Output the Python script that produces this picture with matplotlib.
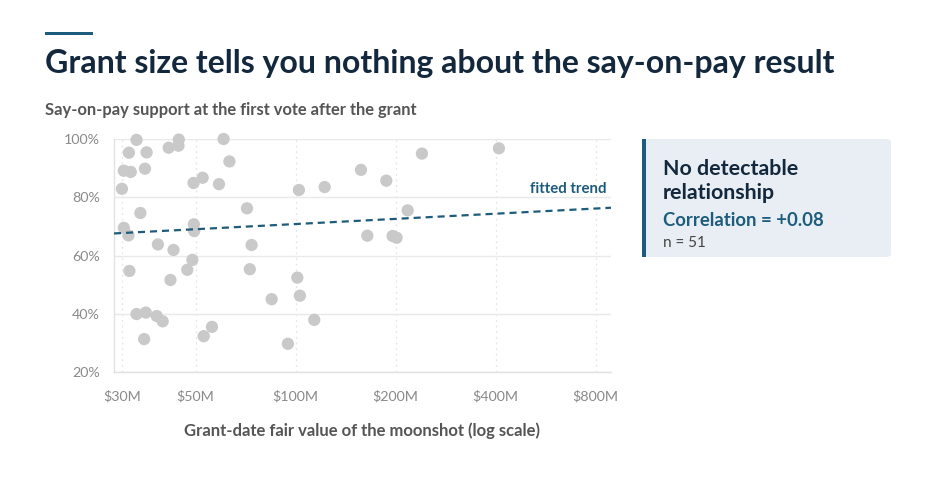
import numpy as np
import matplotlib
matplotlib.use("Agg")
import matplotlib.pyplot as plt
from matplotlib.patches import FancyBboxPatch, Rectangle
from matplotlib.ticker import FixedLocator, NullLocator

plt.rcParams['font.family'] = ['Lato', 'DejaVu Sans']

# grant-date fair value ($M) and say-on-pay support (%)
grant_value = [33.2, 31.5, 35.6, 30.4, 31.9, 35.2, 30.0, 41.5, 44.5, 44.4,
               49.3, 52.5, 58.8, 60.7, 63.2, 102.3, 71.4, 34.1, 30.4, 31.4,
               49.4, 49.5, 38.5, 42.9, 73.7, 31.6, 48.9, 47.2, 42.0, 72.8,
               33.2, 35.4, 38.2, 39.8, 35.0, 52.9, 56.0, 101.2, 103.0, 84.7,
               113.8, 94.8, 122.3, 157.3, 187.5, 240.0, 409.3, 217.4, 164.4, 195.9,
               201.4]
support = [99.7, 95.3, 95.4, 89.1, 88.7, 89.8, 82.9, 97.0, 99.8, 97.7,
           84.9, 86.7, 84.5, 100.0, 92.3, 82.5, 76.2, 74.6, 69.5, 66.9,
           70.7, 68.4, 63.8, 61.9, 63.6, 54.7, 58.5, 55.1, 51.6, 55.3,
           39.9, 40.4, 39.2, 37.4, 31.3, 32.3, 35.5, 52.4, 46.2, 45.0,
           37.9, 29.7, 83.5, 89.4, 85.7, 95.0, 96.8, 75.5, 66.8, 66.7,
           66.1]

x_ticks = [30, 50, 100, 200, 400, 800]
x_tick_labels = ['$30M', '$50M', '$100M', '$200M', '$400M', '$800M']
y_ticks = [20, 40, 60, 80, 100]
y_tick_labels = ['20%', '40%', '60%', '80%', '100%']

# fitted trend: support = intercept + slope * log10(value / 100)
trend_intercept = 70.8
trend_slope = 5.9
correlation = 0.08

navy = '#14283d'
teal = '#1d5c7c'
grey_text = '#555555'
tick_grey = '#8a8a8a'

fig = plt.figure(figsize=(9.36, 4.9), dpi=100)
ax = fig.add_axes([114 / 936, 118 / 490, 497 / 936, 233 / 490])

ax.set_xscale('log')
ax.set_xlim(28.4, 890)
ax.set_ylim(20, 100)

ax.scatter(grant_value, support, s=78, color='#c9c9c9', edgecolors='none',
           zorder=3, clip_on=False)

xs = np.array(ax.get_xlim())
ax.plot(xs, trend_intercept + trend_slope * np.log10(xs / 100), ls=(0, (3.2, 2.2)),
        lw=1.6, color=teal, zorder=4)
ax.text(0.99, 80.6, 'fitted trend', transform=ax.get_yaxis_transform(),
        ha='right', va='bottom', fontsize=10.8, fontweight='bold', color=teal)

ax.xaxis.set_major_locator(FixedLocator(x_ticks))
ax.xaxis.set_minor_locator(NullLocator())
ax.set_xticklabels(x_tick_labels)
ax.set_yticks(y_ticks)
ax.set_yticklabels(y_tick_labels)
ax.tick_params(axis='both', length=0, labelsize=10.3, colors=tick_grey)
ax.tick_params(axis='x', pad=13)
ax.tick_params(axis='y', pad=10)

ax.grid(axis='y', color='#e9e9e9', lw=1, zorder=0)
ax.grid(axis='x', color='#e4e4e4', lw=0.9, ls=(0, (1.5, 3)), zorder=0)
for side in ['top', 'right']:
    ax.spines[side].set_visible(False)
for side in ['left', 'bottom']:
    ax.spines[side].set_color('#e2e2e2')
    ax.spines[side].set_linewidth(1)

ax.set_xlabel('Grant-date fair value of the moonshot (log scale)', fontsize=12,
              fontweight='bold', color=grey_text, labelpad=14)

# header
fig.add_artist(Rectangle((45 / 936, 1 - 35 / 490), 48 / 936, 3 / 490,
                         transform=fig.transFigure, color=teal, lw=0))
fig.text(45 / 936, 1 - 64 / 490, 'Grant size tells you nothing about the say-on-pay result',
         fontsize=23, fontweight='bold', color=navy, va='center', ha='left')
fig.text(45 / 936, 1 - 110 / 490, 'Say-on-pay support at the first vote after the grant',
         fontsize=11.9, fontweight='bold', color=grey_text, va='center', ha='left')

# callout
fig.add_artist(FancyBboxPatch((642 / 936, 1 - 257 / 490), 249 / 936, 118 / 490,
                              boxstyle='round,pad=0,rounding_size=0.006',
                              transform=fig.transFigure, facecolor='#e8eef3',
                              edgecolor='none'))
fig.add_artist(Rectangle((642 / 936, 1 - 257 / 490), 3.5 / 936, 118 / 490,
                         transform=fig.transFigure, color=teal, lw=0))
fig.text(663 / 936, 1 - 181 / 490, 'No detectable\nrelationship', fontsize=15.4,
         fontweight='bold', color=navy, va='center', ha='left', linespacing=1.3)
fig.text(663 / 936, 1 - 220 / 490, f'Correlation = {correlation:+.2f}', fontsize=13.3,
         fontweight='bold', color=teal, va='center', ha='left')
fig.text(663 / 936, 1 - 243 / 490, f'n = {len(support)}', fontsize=11,
         color='#444444', va='center', ha='left')

fig.savefig('out.png', dpi=100, facecolor='white')
